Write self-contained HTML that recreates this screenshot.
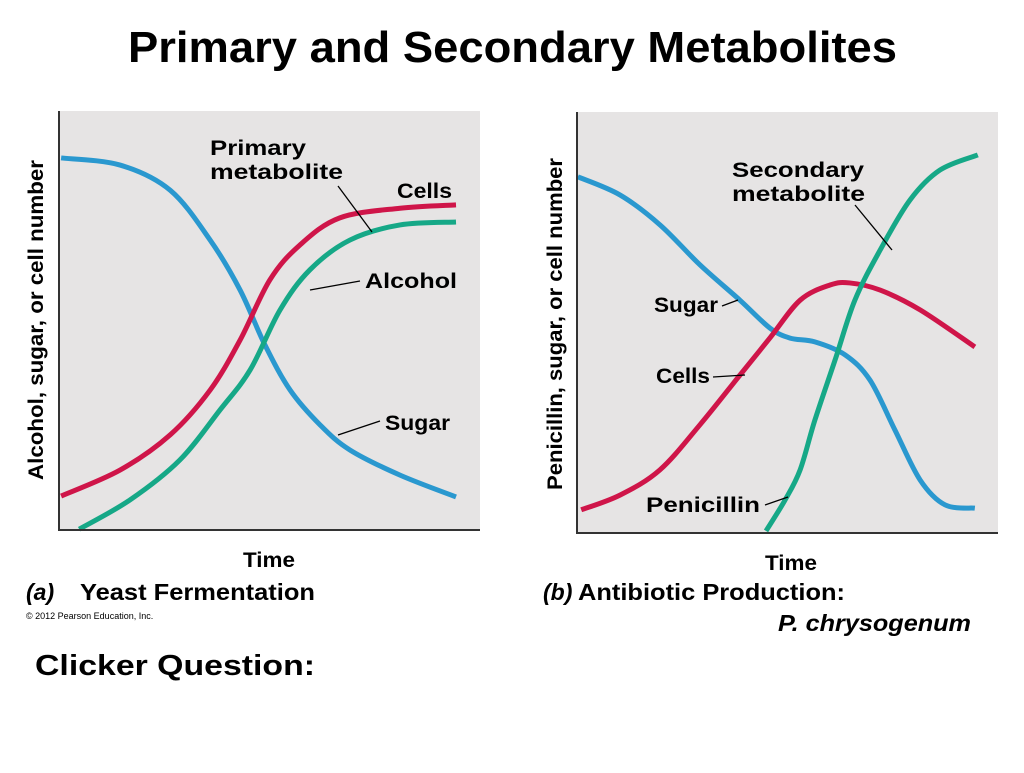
<!DOCTYPE html>
<html><head><meta charset="utf-8"><style>
body{margin:0;background:#fff;font-family:"Liberation Sans",Arial,sans-serif}
svg text{font-family:"Liberation Sans",Arial,sans-serif;font-weight:bold;fill:#000}
</style></head><body>
<svg width="1024" height="768" viewBox="0 0 1024 768">
<text x="128" y="62" font-size="44" textLength="769" lengthAdjust="spacingAndGlyphs">Primary and Secondary Metabolites</text>
<rect x="59" y="111" width="421" height="419" fill="#e6e4e4"/>
<rect x="577" y="112" width="421" height="421" fill="#e6e4e4"/>
<g id="left"></g>
<g id="right"></g>
<path d="M59 111V530H480M577 112V533H998" fill="none" stroke="#333" stroke-width="2"/>
<g stroke="#000" stroke-width="1.3">
<line x1="338" y1="186" x2="372" y2="232"/><line x1="310" y1="290" x2="360" y2="281"/><line x1="338" y1="435" x2="380" y2="421"/>
<line x1="855" y1="205" x2="892" y2="250"/><line x1="722" y1="306" x2="738" y2="300"/><line x1="713" y1="377" x2="745" y2="375"/><line x1="765" y1="505" x2="788" y2="497"/>
</g>
<text x="210" y="155" font-size="21" textLength="96" lengthAdjust="spacingAndGlyphs">Primary</text>
<text x="210" y="179" font-size="21" textLength="133" lengthAdjust="spacingAndGlyphs">metabolite</text>
<text x="397" y="198" font-size="21" textLength="55" lengthAdjust="spacingAndGlyphs">Cells</text>
<text x="365" y="288" font-size="21" textLength="92" lengthAdjust="spacingAndGlyphs">Alcohol</text>
<text x="385" y="430" font-size="21" textLength="65" lengthAdjust="spacingAndGlyphs">Sugar</text>
<text x="732" y="177" font-size="21" textLength="132" lengthAdjust="spacingAndGlyphs">Secondary</text>
<text x="732" y="201" font-size="21" textLength="133" lengthAdjust="spacingAndGlyphs">metabolite</text>
<text x="654" y="312" font-size="21" textLength="64" lengthAdjust="spacingAndGlyphs">Sugar</text>
<text x="656" y="383" font-size="21" textLength="54" lengthAdjust="spacingAndGlyphs">Cells</text>
<text x="646" y="512" font-size="21" textLength="114" lengthAdjust="spacingAndGlyphs">Penicillin</text>
<text transform="translate(43,320) rotate(-90)" font-size="21" text-anchor="middle" textLength="320" lengthAdjust="spacingAndGlyphs">Alcohol, sugar, or cell number</text>
<text transform="translate(562,324) rotate(-90)" font-size="21" text-anchor="middle" textLength="332" lengthAdjust="spacingAndGlyphs">Penicillin, sugar, or cell number</text>
<text x="243" y="567" font-size="21" textLength="52" lengthAdjust="spacingAndGlyphs">Time</text>
<text x="765" y="570" font-size="21" textLength="52" lengthAdjust="spacingAndGlyphs">Time</text>
<text x="26" y="600" font-size="23" font-style="italic">(a)</text>
<text x="80" y="600" font-size="23" textLength="235" lengthAdjust="spacingAndGlyphs">Yeast Fermentation</text>
<text x="26" y="619" font-size="9" style="font-weight:normal" fill="#333">© 2012 Pearson Education, Inc.</text>
<text x="543" y="600" font-size="23" font-style="italic">(b)</text>
<text x="578" y="600" font-size="23" textLength="267" lengthAdjust="spacingAndGlyphs">Antibiotic Production:</text>
<text x="778" y="631" font-size="23" font-style="italic" textLength="193" lengthAdjust="spacingAndGlyphs">P. chrysogenum</text>
<text x="35" y="675" font-size="29" textLength="280" lengthAdjust="spacingAndGlyphs">Clicker Question:</text>
</svg>
<script>
// Left panel (time 0-100, value 0-100)
const leftSugarT=[0.5,14.5,26.4,35.9,43,48.9,54.9,62,69.1,81,94.3];
const leftSugarV=[88.8,87.1,81.1,69.2,57.3,44.2,33.4,25.1,19.1,13.1,7.9];
const leftCellsT=[0.5,14.5,26.4,35.9,43,50.1,57.2,66.7,81,94.3];
const leftCellsV=[8.1,14.3,22.7,33.4,45.3,59.7,68,74.5,76.8,77.6];
const leftAlcT=[4.8,16.9,28.7,38.2,45.4,52.5,59.6,69.1,81,94.3];
const leftAlcV=[0.2,7.2,16.7,28.6,38.2,52.5,62.1,69.2,72.8,73.5];
// Right panel
const rightSugarT=[0.2,10.2,19.7,29.2,38.7,45.8,50.6,56.5,63.7,69.6,75.5,81.5,87.4,94.5];
const rightSugarV=[84.6,80.3,73.2,63.7,55.3,48.7,46.3,45.4,42.3,36.3,24.5,12.6,6.7,5.9];
const rightCellsT=[1,10.2,19.7,29.2,38.7,45.8,53,60.1,64.8,72,81.5,94.5];
const rightCellsV=[5.5,9,15,25.7,37.5,46.3,55.3,58.9,59.4,57.7,53,44.2];
const rightPenT=[44.9,49.4,53,56.5,61.3,66,72,79.1,86.2,95.2];
const rightPenV=[0.5,7.8,15,26.8,41.1,55.3,67.2,79.1,86.2,89.8];

function axes(x0,x1,y0,y1){return{x:t=>x0+(x1-x0)*t/100,y:v=>y0-(y0-y1)*v/100};}
function pathFor(ts,vs,ax){
  const p=ts.map((t,i)=>[ax.x(t),ax.y(vs[i])]);
  let d='M'+p[0][0]+' '+p[0][1];
  for(let i=0;i<p.length-1;i++){
    const a=p[i-1]||p[i],b=p[i],c=p[i+1],e=p[i+2]||c;
    d+=' C'+(b[0]+(c[0]-a[0])/6)+' '+(b[1]+(c[1]-a[1])/6)+' '+(c[0]-(e[0]-b[0])/6)+' '+(c[1]-(e[1]-b[1])/6)+' '+c[0]+' '+c[1];
  }
  return d;
}
const NS='http://www.w3.org/2000/svg';
function draw(gid,ax,ts,vs,color,name){
  const el=document.createElementNS(NS,'path');
  el.setAttribute('d',pathFor(ts,vs,ax));
  el.setAttribute('fill','none');el.setAttribute('stroke',color);
  el.setAttribute('stroke-width','5');
  
  
  document.getElementById(gid).appendChild(el);
}
const L=axes(59,480,530,111),R=axes(577,998,533,112);
draw('left',L,leftSugarT,leftSugarV,'#2a98cf','left-sugar-line');
draw('left',L,leftCellsT,leftCellsV,'#cf1549','left-cells-line');
draw('left',L,leftAlcT,leftAlcV,'#16a887','left-alcohol-line');
draw('right',R,rightSugarT,rightSugarV,'#2a98cf','right-sugar-line');
draw('right',R,rightCellsT,rightCellsV,'#cf1549','right-cells-line');
draw('right',R,rightPenT,rightPenV,'#16a887','right-penicillin-line');
</script>
</body></html>
